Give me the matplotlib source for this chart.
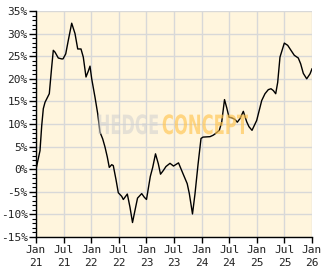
import matplotlib
matplotlib.use("Agg")
import matplotlib.pyplot as plt
from matplotlib.ticker import MultipleLocator
from matplotlib.textpath import TextPath
from matplotlib.font_manager import FontProperties
from matplotlib.patches import PathPatch
from matplotlib.transforms import Affine2D

# month offsets since Jan 2021, and performance in %
months = [0.0, 0.87, 1.24, 1.59, 1.96, 2.89, 3.41, 3.76, 4.13, 4.85, 5.59, 5.87,
          6.46, 7.02, 7.76, 8.48, 9.07, 9.78, 10.28, 10.87, 11.37, 11.74, 12.11,
          12.83, 13.41, 13.91, 14.5, 15.0, 15.5, 15.93, 16.46, 16.8, 17.39, 17.89,
          18.63, 18.98, 19.85, 20.43, 20.98, 21.52, 22.07, 22.98, 23.54, 24.02,
          24.85, 25.37, 25.98, 26.59, 27.07, 27.67, 28.26, 29.13, 29.89, 30.98,
          31.96, 32.87, 33.33, 34.02, 34.57, 35.22, 35.87, 36.3, 37.83, 38.48,
          38.91, 39.85, 40.37, 40.98, 41.46, 41.96, 42.54, 43.26, 43.76, 44.35,
          45.07, 45.8, 46.3, 46.96, 47.98, 49.07, 49.78, 50.5, 51.09, 51.59,
          52.11, 52.54, 53.04, 53.98, 54.72, 55.43, 56.15, 57.02, 57.54, 58.11,
          58.85, 59.57, 60.0]
values = [0.0, 4.1, 9.6, 13.4, 14.8, 16.7, 22.6, 26.3, 25.9, 24.6, 24.4, 24.4,
          25.5, 28.5, 32.3, 30.0, 26.6, 26.6, 24.8, 20.4, 21.7, 22.8, 20.0,
          15.9, 12.3, 8.2, 6.7, 4.9, 2.7, 0.4, 1.0, 0.8, -2.3, -5.2,
          -6.0, -6.7, -5.5, -8.4, -11.8, -9.1, -6.4, -5.4, -6.2, -6.7,
          -1.6, 0.4, 3.4, 1.2, -1.1, -0.3, 0.6, 1.3, 0.7, 1.4,
          -1.0, -3.2, -5.4, -9.9, -5.4, 1.0, 6.8, 7.1, 7.2, 7.5,
          7.8, 8.6, 10.4, 15.4, 13.6, 11.5, 11.4, 11.0, 10.4, 11.2,
          12.8, 10.5, 9.4, 8.6, 10.8, 15.2, 16.7, 17.6, 17.8, 17.4,
          16.7, 19.2, 24.8, 27.9, 27.4, 26.3, 25.2, 24.6, 23.3, 21.2,
          20.0, 21.1, 22.2]

xtick_pos = [0, 6, 12, 18, 24, 30, 36, 42, 48, 54, 60]
xtick_labels = ["Jan\n21", "Jul\n21", "Jan\n22", "Jul\n22", "Jan\n23", "Jul\n23",
                "Jan\n24", "Jul\n24", "Jan\n25", "Jul\n25", "Jan\n26"]
ytick_pos = [-15, -10, -5, 0, 5, 10, 15, 20, 25, 30, 35]
ytick_labels = ["-15%", "-10%", "-5%", "0%", "5%", "10%", "15%", "20%", "25%", "30%", "35%"]

W, H = 332, 269
fig = plt.figure(figsize=(W / 100, H / 100), dpi=100)
fig.patch.set_facecolor("white")
ax = fig.add_axes([36 / W, (H - 237) / H, (312 - 36) / W, (237 - 11) / H])
ax.set_facecolor("#FFF5DD")

ax.plot(months, values, color="black", lw=1.0, zorder=3)

ax.set_xlim(0, 60)
ax.set_ylim(-15, 35)
ax.set_xticks(xtick_pos)
ax.set_xticklabels(xtick_labels, fontsize=8, family="DejaVu Sans Mono", color="#222222",
                   linespacing=1.3)
ax.set_yticks(ytick_pos)
ax.set_yticklabels(ytick_labels, fontsize=8, family="DejaVu Sans Mono", color="#222222")
ax.yaxis.set_minor_locator(MultipleLocator(1))
ax.tick_params(axis="y", which="major", length=5, width=1, pad=1, color="black")
ax.tick_params(axis="y", which="minor", length=3, width=0.8, color="black")
ax.tick_params(axis="x", which="major", length=4, width=1, pad=2, color="black")

ax.grid(True, which="major", color="#D8D8D8", lw=1.0, zorder=0)
ax.set_axisbelow(True)
for s in ["top", "right"]:
    ax.spines[s].set_visible(False)
for s in ["left", "bottom"]:
    ax.spines[s].set_color("black")
    ax.spines[s].set_linewidth(1.0)

# watermark, fitted into boxes (axes fractions)
fp = FontProperties(family="DejaVu Sans", weight="bold")


def fitted_text(s, x0, x1, y0, y1, color, alpha):
    tp = TextPath((0, 0), s, size=10, prop=fp)
    bb = tp.get_extents()
    tr = (Affine2D().translate(-bb.x0, -bb.y0)
          .scale((x1 - x0) / bb.width, (y1 - y0) / bb.height)
          .translate(x0, y0))
    patch = PathPatch(tr.transform_path(tp), facecolor=color, edgecolor="none",
                      alpha=alpha, transform=ax.transAxes, zorder=4)
    ax.add_patch(patch)


fitted_text("HEDGE", 0.2257, 0.442, 0.454, 0.543, "#D0D0D0", 0.55)
fitted_text("CONCEPT", 0.459, 0.768, 0.454, 0.543, "#FFC550", 0.65)

fig.savefig("out.png", dpi=100)
